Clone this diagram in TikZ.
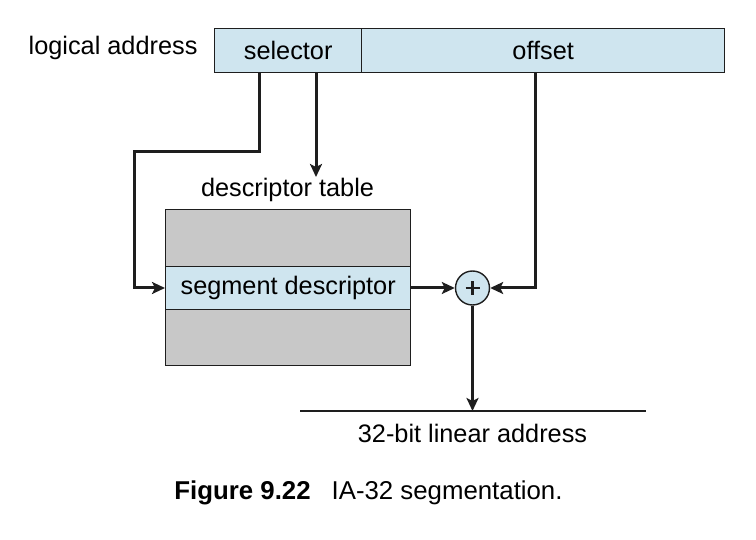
\documentclass[tikz,border=0pt]{standalone}
\usepackage{fontspec}
\setmainfont{Liberation Sans}
\usetikzlibrary{arrows.meta}
\definecolor{cellblue}{RGB}{207,229,239}
\definecolor{cellgray}{RGB}{200,200,200}
\definecolor{ink}{RGB}{30,30,30}
\begin{document}
\begin{tikzpicture}[x=1pt,y=-1pt,
  font=\fontsize{25.3}{30}\selectfont,
  cell/.style={draw=ink,line width=1.4pt,fill=cellblue,inner sep=0pt,minimum height=44pt,anchor=north west},
  graycell/.style={draw=ink,line width=1.4pt,fill=cellgray,inner sep=0pt,anchor=north west},
  wire/.style={draw=ink,line width=3pt},
  arr/.style={wire,-{Stealth[length=13pt,width=12pt,inset=3pt]}}]
  \useasboundingbox (0,0) rectangle (756,540);

  % logical address: selector | offset
  \node[cell,minimum width=147pt] (sel) at (214,28) {selector};
  \node[cell,minimum width=363pt] (off) at (361,28) {offset};
  \node[anchor=east] (la) at (201,48) {logical address};

  % descriptor table with the selected segment descriptor row
  \node[graycell,minimum width=245pt,minimum height=57pt] (top) at (165,209) {};
  \node[cell,minimum width=245pt,minimum height=43pt] (seg) at (165,266) {segment descriptor};
  \node[graycell,minimum width=245pt,minimum height=56pt] (bot) at (165,309) {};
  \node (dt) at (287.5,190) {descriptor table};

  % adder
  \node[circle,draw=ink,line width=1.4pt,fill=cellblue,minimum size=34pt,inner sep=0pt] (plus) at (472.5,288) {};
  \draw[ink,line width=2.4pt] ([xshift=-7pt]plus.center) -- ([xshift=7pt]plus.center)
                              ([yshift=-7pt]plus.center) -- ([yshift=7pt]plus.center);

  % linear address
  \coordinate (la1) at (300,411);
  \coordinate (la2) at (646,411);
  \draw[ink,line width=1.4pt] (la1) -- (la2);
  \node (lin) at (472.5,433) {32-bit linear address};

  % connectors
  \draw[arr] (sel.south -| 259,0) -- (259,152) -- (134,152) -- (134,288) -- (seg.west |- 0,288);
  \draw[arr] (sel.south -| 316,0) -- (316,177);
  \draw[arr] (off.south -| 535,0) -- (535,288) -- (plus.east);
  \draw[arr] (seg.east |- 0,288) -- (plus.west);
  \draw[arr] (plus.south) -- (472.5,411);

  % caption
  \node[font=\fontsize{25.8}{30}\selectfont] (cap) at (368.5,493) {\textbf{Figure 9.22}\hspace{21pt}IA-32 segmentation.};
\end{tikzpicture}
\end{document}
